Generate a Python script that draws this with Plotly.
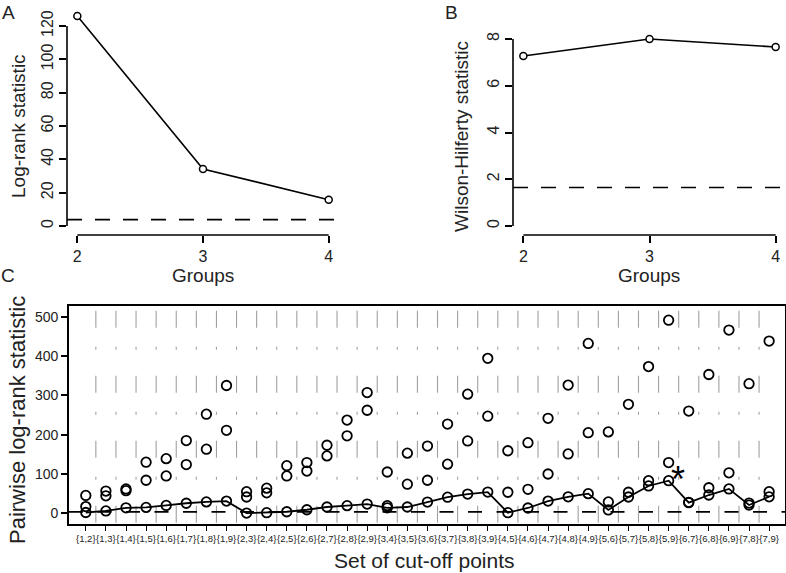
import plotly.graph_objects as go
import numpy as np

W, H = 786, 573

# ---------------- data ----------------
groups = [2, 3, 4]
logrank_stat = [126.0, 34.2, 15.8]
wilson_hilferty = [7.27, 8.0, 7.66]
chisq_crit = 3.84
z_crit = 1.645

pair_labels = ["{1,2}", "{1,3}", "{1,4}", "{1,5}", "{1,6}", "{1,7}", "{1,8}", "{1,9}",
               "{2,3}", "{2,4}", "{2,5}", "{2,6}", "{2,7}", "{2,8}", "{2,9}",
               "{3,4}", "{3,5}", "{3,6}", "{3,7}", "{3,8}", "{3,9}",
               "{4,5}", "{4,6}", "{4,7}", "{4,8}", "{4,9}",
               "{5,6}", "{5,7}", "{5,8}", "{5,9}",
               "{6,7}", "{6,8}", "{6,9}",
               "{7,8}", "{7,9}"]
pair_high = [45.5, 56.5, 62, 130, 139, 185, 252, 325,
             55, 64, 121, 129, 173, 237, 307,
             105, 153, 171, 227, 303, 394,
             159, 179.5, 241.5, 326, 432,
             207, 277, 373, 491,
             260, 353, 466,
             329.5, 438]
pair_mid = [17, 44.5, 57.5, 84, 95, 124, 163, 211,
            41.5, 52, 95, 107.5, 146, 197, 262,
            19.5, 74, 84, 125, 184, 247,
            53.5, 61, 100, 151, 205,
            29, 53.5, 83, 129,
            28, 65, 103,
            26, 55]
pair_low = [2, 6, 14, 15, 20, 25.5, 29, 31,
            0.5, 1.5, 4, 9, 16, 19.5, 23.5,
            14, 16, 28.5, 41, 49, 54,
            1.5, 13.5, 31, 42, 50,
            8.5, 41.5, 69.5, 83,
            27, 46.5, 62,
            21, 42]

n = len(pair_labels)
idx = list(range(n))
min_stat = [min(a, b, c) for a, b, c in zip(pair_high, pair_mid, pair_low)]
best = int(np.argmax(min_stat))

FONT = "Liberation Sans, Arial, Helvetica, sans-serif"


def dx(p):
    return p / W


def dy(p):
    return 1 - p / H


fig = go.Figure()

# ---------------- Panel A ----------------
fig.add_trace(go.Scatter(x=[1.918, 4.082], y=[chisq_crit, chisq_crit], mode="lines",
                         line=dict(color="black", width=1.6, dash="15px,13px"),
                         xaxis="x", yaxis="y", hoverinfo="skip", showlegend=False))
fig.add_trace(go.Scatter(x=groups, y=logrank_stat, mode="lines+markers",
                         line=dict(color="black", width=1.6),
                         marker=dict(symbol="circle", size=7, color="white",
                                     line=dict(color="black", width=1.5)),
                         xaxis="x", yaxis="y", showlegend=False))

# ---------------- Panel B ----------------
fig.add_trace(go.Scatter(x=[1.918, 4.082], y=[z_crit, z_crit], mode="lines",
                         line=dict(color="black", width=1.6, dash="15px,13px"),
                         xaxis="x2", yaxis="y2", hoverinfo="skip", showlegend=False))
fig.add_trace(go.Scatter(x=groups, y=wilson_hilferty, mode="lines+markers",
                         line=dict(color="black", width=1.6),
                         marker=dict(symbol="circle", size=7, color="white",
                                     line=dict(color="black", width=1.5)),
                         xaxis="x2", yaxis="y2", showlegend=False))

# ---------------- Panel C ----------------
xr3 = [-0.836, 34.79]
yr3 = [-27.2, 528.4]
# vertical gray separators
for i in range(n - 1):
    fig.add_shape(type="line", xref="x3", yref="y3", x0=i + 0.5, x1=i + 0.5,
                  y0=515, y1=yr3[0],
                  line=dict(color="#a0a0a0", width=1.1, dash="17px,19px,3px,26px"),
                  layer="below")
fig.add_trace(go.Scatter(x=xr3, y=[chisq_crit, chisq_crit], mode="lines",
                         line=dict(color="black", width=1.8, dash="14px,14.5px"),
                         xaxis="x3", yaxis="y3", hoverinfo="skip", showlegend=False))
fig.add_trace(go.Scatter(x=idx, y=min_stat, mode="lines",
                         line=dict(color="black", width=1.8),
                         xaxis="x3", yaxis="y3", showlegend=False))
for arr in (pair_high, pair_mid, pair_low):
    fig.add_trace(go.Scatter(x=idx, y=arr, mode="markers",
                             marker=dict(symbol="circle-open", size=9.5, color="black",
                                         line=dict(color="black", width=1.8)),
                             xaxis="x3", yaxis="y3", showlegend=False))
fig.add_annotation(x=best + 0.45, y=min_stat[best], xref="x3", yref="y3",
                   text="*", showarrow=False, yshift=1,
                   font=dict(size=36, color="black", family=FONT))

# ---------------- axes ----------------
ax_common = dict(showgrid=False, zeroline=False, showline=False,
                 ticks="outside", tickcolor="black", tickwidth=1.5,
                 tickfont=dict(family=FONT, size=16, color="#222"))

fig.update_layout(
    width=W, height=H,
    margin=dict(l=0, r=0, t=0, b=0),
    paper_bgcolor="white", plot_bgcolor="white",
    xaxis=dict(domain=[dx(67), dx(339)], range=[1.918, 4.082], anchor="y",
               tickvals=groups, ticklen=7, **ax_common),
    yaxis=dict(domain=[dy(235), dy(8)], range=[-5.4, 130.8], anchor="x",
               tickvals=[0, 20, 40, 60, 80, 100, 120], ticklen=7, tickangle=-90,
               **ax_common),
    xaxis2=dict(domain=[dx(513), dx(786)], range=[1.918, 4.082], anchor="y2",
                tickvals=groups, ticklen=7, **ax_common),
    yaxis2=dict(domain=[dy(235), dy(8)], range=[-0.385, 9.326], anchor="x2",
                tickvals=[0, 2, 4, 6, 8], ticklen=7, tickangle=-90, **ax_common),
    xaxis3=dict(domain=[dx(69), dx(785)], range=xr3, anchor="y3",
                tickvals=idx, ticktext=pair_labels, tickangle=0, ticklen=5,
                showgrid=False, zeroline=False, showline=True, mirror=True,
                linecolor="black", linewidth=1.6,
                ticks="outside", tickcolor="black", tickwidth=1.2,
                tickfont=dict(family=FONT, size=9.5, color="#222")),
    yaxis3=dict(domain=[dy(524), dy(305.5)], range=yr3, anchor="x3",
                tickvals=[0, 100, 200, 300, 400, 500], ticklen=6,
                showgrid=False, zeroline=False, showline=True, mirror=True,
                linecolor="black", linewidth=1.6,
                ticks="outside", tickcolor="black", tickwidth=1.5,
                tickfont=dict(family=FONT, size=14, color="#222")),
)

# R-style axis lines spanning only the tick range (panels A and B)
line_style = dict(color="black", width=1.6)
fig.add_shape(type="line", xref="x domain", yref="y", x0=0, x1=0, y0=0, y1=120, line=line_style)
fig.add_shape(type="line", xref="x", yref="y domain", x0=2, x1=4, y0=0, y1=0, line=line_style)
fig.add_shape(type="line", xref="x2 domain", yref="y2", x0=0, x1=0, y0=0, y1=8, line=line_style)
fig.add_shape(type="line", xref="x2", yref="y2 domain", x0=2, x1=4, y0=0, y1=0, line=line_style)

# ---------------- titles & panel letters ----------------
def note(text, x, y, size, angle=0, yanchor="middle"):
    fig.add_annotation(x=dx(x), y=dy(y), xref="paper", yref="paper", text=text,
                       showarrow=False, textangle=angle, xanchor="center", yanchor=yanchor,
                       font=dict(family=FONT, size=size, color="#222"))

note("Log-rank statistic", 18, 126, 19, -90)
note("Groups", 203, 275, 19)
note("Wilson-Hilferty statistic", 462, 137, 19, -90)
note("Groups", 649, 275, 19)
note("Pairwise log-rank statistic", 17, 420, 22, -90)
note("Set of cut-off points", 424, 560, 21)
note("A", 8, 0, 19, yanchor="top")
note("B", 451, 0, 19, yanchor="top")
note("C", 8, 275, 19)

fig.write_html("out.html", config={"displayModeBar": False},
               post_script="document.body.style.margin='0';document.body.style.overflow='hidden';")
